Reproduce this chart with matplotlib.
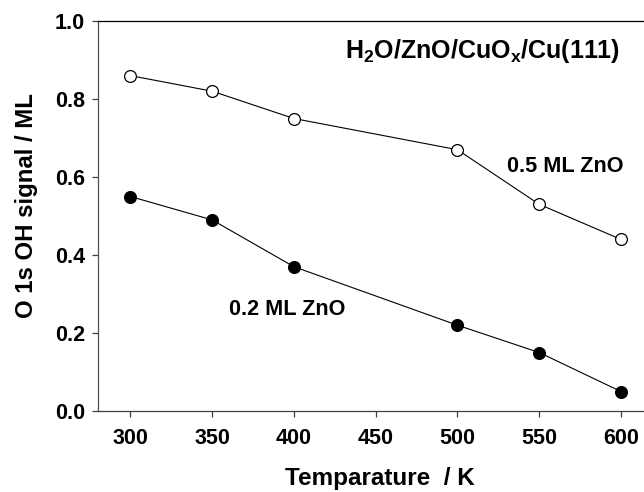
import matplotlib
matplotlib.use("Agg")
import matplotlib.pyplot as plt

plt.rcParams['font.family'] = ['Liberation Sans', 'DejaVu Sans']
plt.rcParams['font.weight'] = 'bold'
plt.rcParams['mathtext.fontset'] = 'custom'
plt.rcParams['mathtext.rm'] = 'Liberation Sans:bold'
plt.rcParams['mathtext.it'] = 'Liberation Sans:bold'
plt.rcParams['mathtext.bf'] = 'Liberation Sans:bold'

## Data
temp = [300, 350, 400, 500, 550, 600]
oh_05 = [0.86, 0.82, 0.75, 0.67, 0.53, 0.44]   # 0.5 ML ZnO (open)
oh_02 = [0.55, 0.49, 0.37, 0.22, 0.15, 0.05]   # 0.2 ML ZnO (filled)
xticks = [300, 350, 400, 450, 500, 550, 600]
yticks = [0.0, 0.2, 0.4, 0.6, 0.8, 1.0]

fig = plt.figure(figsize=(6.44, 4.92), dpi=100)
# axes run a bit past the right edge, like the cropped original
ax = fig.add_axes([0.1517, 0.1646, 0.876, 0.7927])

ax.plot(temp, oh_05, '-o', color='black', lw=0.8, ms=8.5,
        mfc='white', mec='black', mew=0.9)
ax.plot(temp, oh_02, '-o', color='black', lw=0.8, ms=8.5,
        mfc='black', mec='black', mew=0.9)

ax.set_xlim(280, 625)
ax.set_ylim(0.0, 1.0)
ax.set_xticks(xticks)
ax.set_yticks(yticks)
ax.set_yticklabels(['%.1f' % v for v in yticks])

ax.spines['right'].set_visible(False)
ax.spines['top'].set_color('black')
ax.spines['left'].set_color('#505050')
ax.spines['bottom'].set_color('#404040')
for s in ['top', 'left', 'bottom']:
    ax.spines[s].set_linewidth(0.9)

ax.tick_params(axis='x', direction='out', length=4, width=0.9,
               labelsize=15.5, pad=8, color='#404040')
ax.tick_params(axis='y', direction='out', length=4, width=0.9,
               labelsize=15.5, pad=5, color='#404040')

ax.set_xlabel('Temparature  / K', fontsize=17.5, fontweight='bold', labelpad=13)
ax.set_ylabel('O 1s OH signal / ML', fontsize=17.3, fontweight='bold')
ax.yaxis.set_label_coords(-0.106, 0.526)

ax.text(515.5, 0.923, r'H$_2$O/ZnO/CuO$_{\rm x}$/Cu(111)', fontsize=18,
        fontweight='bold', ha='center', va='center')
ax.text(566, 0.626, '0.5 ML ZnO', fontsize=15.6, fontweight='bold',
        ha='center', va='center')
ax.text(396, 0.26, '0.2 ML ZnO', fontsize=15.6, fontweight='bold',
        ha='center', va='center')

fig.savefig('out.png', dpi=100)
